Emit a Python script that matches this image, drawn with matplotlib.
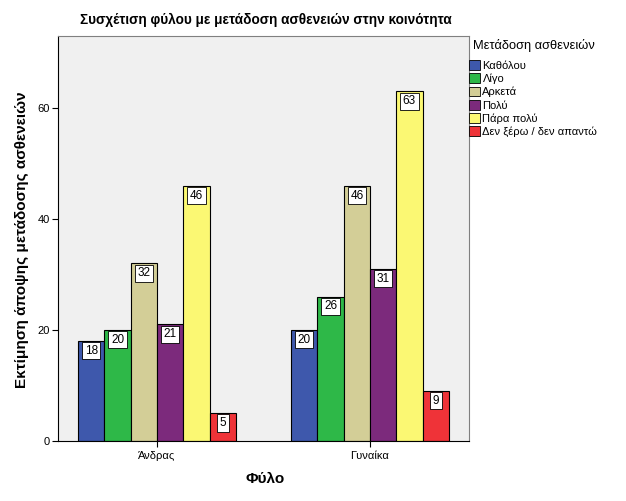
import numpy as np
import matplotlib.pyplot as plt
from matplotlib.patches import Patch

plt.rcParams['font.family'] = ['Liberation Sans', 'DejaVu Sans']

groups = ['Άνδρας', 'Γυναίκα']
categories = ['Καθόλου', 'Λίγο', 'Αρκετά', 'Πολύ', 'Πάρα πολύ', 'Δεν ξέρω / δεν απαντώ']
values = {
    'Καθόλου': [18, 20],
    'Λίγο': [20, 26],
    'Αρκετά': [32, 46],
    'Πολύ': [21, 31],
    'Πάρα πολύ': [46, 63],
    'Δεν ξέρω / δεν απαντώ': [5, 9],
}
colors = ['#3e58ac', '#2eb848', '#d3ce97', '#7c2a7c', '#fbf873', '#ef3338']

W, H = 626, 501
fig = plt.figure(figsize=(W / 100, H / 100), dpi=100)
ax = fig.add_axes([58 / W, 60 / H, 411 / W, 405 / H])
ax.set_facecolor('#f0f0f0')

x = np.arange(len(groups))
w = 0.1235
for i, cat in enumerate(categories):
    pos = x + (i - 2.5) * w
    ax.bar(pos, values[cat], width=w, color=colors[i], edgecolor='black', linewidth=0.8, zorder=2)
    for p, v in zip(pos, values[cat]):
        ax.annotate(str(v), (p, v), xytext=(0, -7), textcoords='offset points',
                    ha='center', va='center', fontsize=8.5, zorder=3,
                    bbox=dict(boxstyle='square,pad=0.22', fc='white', ec='black', lw=0.6))

ax.set_xlim(-0.465, 1.465)
ax.set_ylim(0, 73)
ax.set_xticks(x)
ax.set_xticklabels(groups, fontsize=8)
ax.set_yticks([0, 20, 40, 60])
ax.tick_params(axis='y', labelsize=8, length=4, pad=2)
ax.tick_params(axis='x', length=4)
for s in ['top', 'right']:
    ax.spines[s].set_color('#808080')
ax.spines['left'].set_color('black')
ax.spines['bottom'].set_color('black')

fig.text(265 / W, 1 - 479 / H, 'Φύλο', ha='center', va='center', fontsize=11, fontweight='bold')
fig.text(22 / W, 1 - 240 / H, 'Εκτίμηση άποψης μετάδοσης ασθενειών', rotation=90,
         ha='center', va='center', fontsize=11, fontweight='bold')
fig.text(266 / W, 1 - 20 / H, 'Συσχέτιση φύλου με μετάδοση ασθενειών στην κοινότητα',
         ha='center', va='center', fontsize=9.8, fontweight='bold')

fig.text(473 / W, 1 - 45 / H, 'Μετάδοση ασθενειών', ha='left', va='center', fontsize=9.3)
handles = [Patch(facecolor=c, edgecolor='black', linewidth=0.6) for c in colors]
fig.legend(handles, categories, loc='upper left', bbox_to_anchor=(468 / W, 1 - 59 / H),
           fontsize=8, frameon=False, handlelength=0.95, handleheight=0.95,
           handletextpad=0.25, labelspacing=0.24, borderaxespad=0, borderpad=0.1)

fig.savefig('out.png', dpi=100)
